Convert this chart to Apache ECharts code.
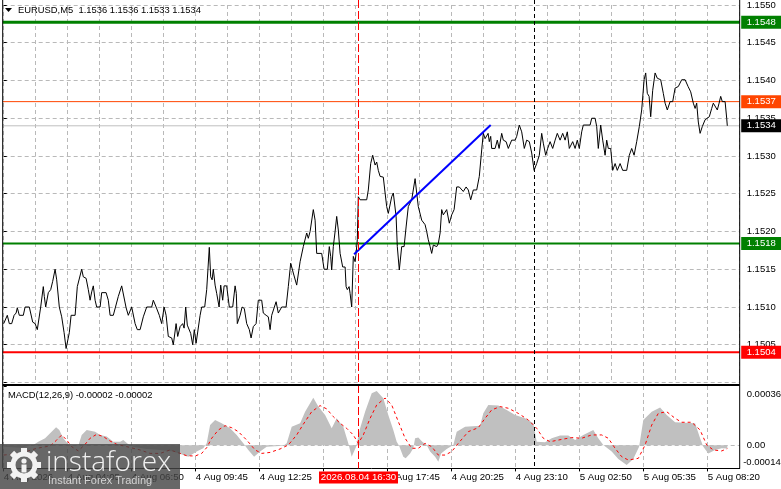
<!DOCTYPE html>
<html><head><meta charset="utf-8">
<script src="https://cdn.jsdelivr.net/npm/echarts@6/dist/echarts.min.js"></script>
<style>html,body{margin:0;padding:0;background:#fff}#c{width:781px;height:489px}</style>
</head><body><div id="c"></div>
<script>
// ---------- DATA ----------
const symbolTitle = 'EURUSD,M5  1.1536 1.1536 1.1533 1.1534';
const macdTitle = 'MACD(12,26,9) -0.00002 -0.00002';
// bar index (M5 bars) , close price
const pricePts = [
[0,1.15078],[1.8,1.15089],[2.8,1.15078],[4,1.15078],[5.2,1.15089],[6.2,1.15092],[6.8,1.15099],[7.8,1.15089],[9.8,1.15089],[10.7,1.151],[12.8,1.151],[14.5,1.1508],[15.7,1.15078],[16.8,1.1507],[17.8,1.1507],[18.5,1.151],[19.8,1.15127],[20.3,1.15114],[21,1.151],[22.3,1.15119],[23.5,1.15123],[24.5,1.15134],[25.7,1.1515],[26.5,1.15136],[27.8,1.151],[29,1.15087],[30.2,1.15066],[31.2,1.15045],[32,1.15043],[32.8,1.15066],[33.7,1.15089],[35.7,1.15089],[36.8,1.15127],[39,1.1515],[39.8,1.1514],[41.2,1.15138],[42.3,1.15123],[43.2,1.15109],[44,1.1512],[44.8,1.15128],[45.7,1.15109],[46.5,1.151],[48.2,1.151],[49,1.15119],[51.2,1.15119],[52.3,1.15109],[53.2,1.15089],[54.8,1.15089],[57.3,1.15114],[59,1.15128],[59.8,1.15128],[61.2,1.15099],[62.3,1.15089],[64,1.151],[65.7,1.15078],[66.8,1.1507],[68.2,1.1507],[69.8,1.15087],[71.5,1.151],[74,1.151],[74.8,1.15109],[76.2,1.151],[77.8,1.15089],[79,1.15078],[80.2,1.151],[81.2,1.15089],[82.3,1.15061],[84,1.15059],[84.8,1.1505],[86.2,1.15078],[87,1.15061],[88.2,1.15074],[89.5,1.15078],[90.2,1.15072],[91,1.151],[91.8,1.15076],[92.7,1.15078],[93.5,1.15065],[94.5,1.1505],[95.3,1.1507],[96.2,1.15052],[97,1.1505],[98.2,1.15089],[99,1.151],[100.5,1.151],[101.5,1.15123],[102.8,1.15179],[103.5,1.1514],[104.2,1.15136],[104.8,1.1515],[105.7,1.15129],[106.5,1.15118],[107.7,1.151],[108.5,1.15129],[109.5,1.15109],[110.2,1.15128],[111.5,1.15128],[112.8,1.151],[114.5,1.151],[115.7,1.15128],[116.3,1.15118],[116.8,1.15078],[118.2,1.15089],[119.2,1.151],[120.3,1.15098],[121.5,1.15078],[122.8,1.1507],[123.7,1.15059],[124.8,1.15074],[126.2,1.15078],[127.3,1.15109],[129,1.15109],[129.8,1.15092],[131.2,1.15089],[132.3,1.15087],[133.2,1.1507],[134,1.15089],[136.2,1.15107],[137.3,1.15092],[139,1.151],[141.2,1.151],[142.3,1.15127],[143.5,1.15158],[144.8,1.15145],[146.5,1.15129],[148.2,1.1516],[149.8,1.1518],[151.5,1.15198],[152.3,1.15191],[153.2,1.152],[154.8,1.15229],[155.7,1.15215],[156.5,1.15171],[159,1.15171],[160.2,1.1515],[161.8,1.1515],[162.8,1.1518],[163.5,1.15167],[164,1.15149],[164.8,1.1518],[165.7,1.152],[166.5,1.1522],[167.3,1.15202],[168.2,1.15171],[169.5,1.15153],[170.7,1.15153],[171.2,1.15127],[171.8,1.15123],[172.7,1.15127],[173.2,1.15118],[174,1.151],[174.8,1.15167],[175.7,1.1516],[176.2,1.15171],[176.8,1.15189],[177.3,1.15246],[178.2,1.15242],[181.5,1.15242],[182.3,1.15255],[183.5,1.1529],[184.5,1.15301],[185.7,1.15288],[186.5,1.15292],[187.3,1.15281],[188.2,1.15273],[189.8,1.15272],[190.7,1.15251],[191.5,1.15233],[192.3,1.15224],[194,1.15246],[194.8,1.15251],[196.2,1.1522],[196.8,1.1518],[197.8,1.15149],[199,1.1518],[200.2,1.1518],[201.2,1.15206],[202.3,1.15233],[204,1.15242],[205.7,1.1527],[206.5,1.15251],[207.3,1.15233],[209,1.15215],[210.7,1.15209],[211.5,1.152],[212.3,1.15189],[213.2,1.1518],[214,1.15171],[214.8,1.15182],[216.5,1.1518],[217.3,1.15184],[218.2,1.15198],[219,1.15229],[219.8,1.15222],[221.5,1.15229],[222.8,1.15211],[224,1.15222],[225.2,1.15229],[226.5,1.15259],[227.8,1.15259],[229.8,1.15253],[231.2,1.15259],[232.3,1.15255],[233.5,1.15242],[234.8,1.15255],[236.5,1.15255],[237.8,1.15273],[239,1.15308],[239.8,1.1533],[240.7,1.15323],[241.5,1.15321],[242.2,1.1533],[242.8,1.15319],[243.5,1.15326],[244,1.1531],[245.7,1.1531],[246.8,1.15321],[247.7,1.1531],[249,1.1533],[249.8,1.15321],[251.2,1.15319],[252.3,1.1531],[254,1.15321],[255.7,1.15321],[256.5,1.15326],[257.8,1.15341],[259,1.15332],[260.3,1.1531],[261.5,1.15321],[262.8,1.15319],[264,1.15304],[265.2,1.15281],[266.5,1.1529],[267.8,1.15301],[269,1.1533],[269.8,1.15317],[271,1.15301],[272,1.1531],[273.2,1.15319],[274.5,1.1531],[275.7,1.15321],[276.8,1.1533],[278.2,1.15321],[279.5,1.1533],[280.7,1.15321],[281.8,1.15332],[282.8,1.1531],[284.5,1.15319],[285.7,1.1531],[286.8,1.15321],[287.8,1.1531],[289,1.15332],[289.8,1.15341],[293.2,1.15341],[294,1.1535],[295.7,1.1535],[296.5,1.15339],[297.3,1.1531],[298.5,1.15341],[299.5,1.15321],[300.7,1.15301],[301.5,1.15321],[302.3,1.1531],[303.5,1.1531],[304.5,1.15281],[305.7,1.1529],[306.8,1.15281],[308.2,1.1529],[309.5,1.15281],[311.5,1.15281],[312.8,1.15301],[314,1.1531],[315.2,1.15301],[316.5,1.15319],[317.8,1.15339],[319,1.15361],[320.2,1.15401],[321,1.1541],[321.8,1.15383],[322.7,1.15379],[323.5,1.15352],[324.5,1.15387],[325.7,1.1541],[326.8,1.15403],[328.5,1.15401],[329.8,1.15383],[330.7,1.1537],[331.8,1.15361],[333.2,1.15372],[334.5,1.15372],[335.7,1.1539],[337.3,1.15392],[339,1.15401],[340.7,1.15401],[342.2,1.15392],[343.5,1.15385],[344.8,1.1537],[345.7,1.15363],[346.5,1.1537],[347.3,1.15345],[348.2,1.1533],[349.3,1.15339],[350.7,1.15348],[352.8,1.15352],[354,1.15363],[354.8,1.1537],[355.7,1.1537],[356.8,1.15361],[357.7,1.1537],[358.5,1.15379],[359.3,1.15372],[360.7,1.15372],[361.5,1.1535],[361.8,1.1534]
];
// MACD histogram (units of 1e-5)
const macdHist = [
[0,-0.8],[8.2,-1.4],[14.8,0.2],[17.3,2.2],[20.7,4.3],[23.2,7.3],[26.2,10.9],[27.8,9.3],[29.8,4.3],[32.3,0.6],[37.3,-0.2],[39,6.3],[41.5,9.3],[45.7,8.3],[48.2,6.3],[51.5,5.3],[54.8,2.2],[58.2,2.2],[59.8,3.2],[62.3,0.6],[64.8,-0.8],[71.5,-2.2],[78.2,-2.8],[84.8,-3.8],[89.8,-5.9],[92.3,-6.9],[96.5,-3.8],[99.8,-1.8],[101.5,1.2],[103.2,12.3],[105.7,15.4],[109,13.4],[113.2,10.3],[116.5,6.3],[119.8,1.2],[122.3,-2.8],[125.2,-6.9],[128.2,-3.8],[131.5,-0.8],[139.8,-0.2],[141.5,1.2],[144,11.3],[148.2,13.4],[150.7,20.4],[154.8,28.9],[157.3,23.5],[160.7,18.4],[164,10.3],[166.5,16.4],[169.8,11.3],[172.3,1.2],[174,-6.9],[176.2,-0.8],[178.2,10.3],[180.7,20.4],[184,31.6],[186.5,33.0],[189.8,28.5],[192.3,18.4],[194.8,9.3],[196.5,2.2],[197.7,-0.2],[199.8,-6.9],[201,-7.9],[203.2,-4.9],[204.8,-1.8],[205.7,4.3],[207.3,4.7],[209.3,2.2],[211.5,0.2],[213.2,-3.8],[215.7,-6.9],[217.3,-9.9],[218.7,-4.9],[221.5,-2.2],[224.8,0.2],[226.5,8.3],[230.7,11.3],[238.2,11.9],[239.8,19.4],[242.3,24.5],[247.3,24.1],[251.5,21.5],[255.7,18.4],[260.7,16.4],[264.8,13.4],[266.5,2.2],[270.7,1.8],[274,4.3],[278.2,5.9],[282.3,5.9],[285.7,3.2],[289.8,6.3],[294.8,9.3],[297.3,4.3],[299.8,0.2],[304,-3.8],[307.3,-8.3],[311.5,-11.9],[314.8,-8.3],[317.7,-0.8],[319.8,15.4],[324,20.4],[328.2,22.9],[331.5,18.4],[335.7,14.0],[345.7,13.4],[348.2,4.3],[349.8,-0.8],[352.3,-4.9],[355.7,-2.8],[359,-1.8],[361.8,-2]
];
// MACD signal (units of 1e-5)
const macdSignal = [
[0,-5.9],[8.2,-4.9],[16.5,-1.8],[23.2,-0.4],[26.5,3.2],[29,6.3],[31.5,3.2],[34,-0.8],[37.3,-3.4],[40.7,0.6],[43.2,4.3],[46.5,6.7],[49.8,5.3],[53.2,2.6],[56.5,0.6],[61.5,-0.8],[68.2,-2.8],[73.2,-4.9],[78.2,-4.9],[83.2,-2.8],[88.2,-4.9],[91.5,-6.3],[95.7,-6.5],[99,-4.9],[101.5,-1.4],[104,4.3],[107.3,9.3],[110.7,11.9],[114,10.7],[117.3,8.3],[121.5,3.2],[125.7,-2.8],[129,-4.9],[133.2,-4.3],[138.2,-2.2],[142.3,0.2],[146.5,6.3],[149.8,12.8],[154,20.4],[158.2,24.1],[161.5,22.1],[164.8,17.4],[168.2,13.4],[171.5,10.3],[174.8,6.3],[177.3,1.2],[179.8,6.3],[183.2,16.4],[186.5,24.5],[190.7,28.7],[194,24.5],[197.3,14.4],[200.7,4.3],[204,-1.8],[207.3,-1.8],[210.7,1.2],[214,-0.8],[217.3,-5.9],[220.7,-5.9],[224,-3.8],[227.3,1.2],[232.3,8.3],[237.3,10.7],[240.7,16.4],[244,21.5],[248.2,23.5],[252.3,22.5],[257.3,19.4],[262.3,15.4],[266.5,10.3],[269.8,4.3],[273.2,2.2],[279,3.6],[284,4.7],[289,4.3],[294,6.3],[299,6.3],[302.3,4.3],[305.7,-1.8],[309,-6.9],[312.3,-8.9],[317.3,-7.9],[320.7,0.2],[324,12.3],[327.3,19.4],[331.5,20.4],[335.7,16.4],[339,14.0],[344,14.0],[348.2,9.3],[351.5,0.2],[354.8,-2.8],[359,-3.4],[361.8,-2]
];
const timeTickIdx = [0,32,64,96,128,160,192,224,256,288,320,352];
const timeTickLabels = ['4 Aug 2026','4 Aug 04:05','4 Aug 06:50','4 Aug 09:45','4 Aug 12:25','4 Aug 15:05','4 Aug 17:45','4 Aug 20:25','4 Aug 23:10','5 Aug 02:50','5 Aug 05:35','5 Aug 08:20'];
const macdAxisValues = [-14, 0, 36];        // 1e-5 units
const macdAxisLabels = ['-0.00014', '0.00', '0.00036'];
const levels = [
  {name:'resistance', value:1.15477, color:'#008000', width:3, tag:'#008000', tagText:'#ffffff'},
  {name:'pivot',      value:1.15184, color:'#008000', width:2, tag:'#008000', tagText:'#ffffff'},
  {name:'support',    value:1.1504,  color:'#ff0000', width:2, tag:'#ff0000', tagText:'#ffffff'},
  {name:'ask',        value:1.15372, color:'#ff4500', width:1, tag:'#ff4500', tagText:'#ffffff'},
  {name:'bid',        value:1.1534,  color:'#c0c0c0', width:1, tag:'#000000', tagText:'#ffffff'}
];
const trendIdx = [175.2, 243.5];
const trendPrice = [1.1517, 1.15341];
const cursorIdx = 177;
const cursorLabel = '2026.08.04 16:30';
const daySepIdx = 265;

// ---------- CHART ----------
const FONT = '"Liberation Sans", Arial, sans-serif';
const gridCol = '#b9b9b9';
const chart = echarts.init(document.getElementById('c'), null, {renderer:'canvas'});
const tickMap = {};
timeTickIdx.forEach((v,k)=>tickMap[v]=timeTickLabels[k]);

const option = {
  animation:false,
  backgroundColor:'#ffffff',
  textStyle:{fontFamily:FONT},
  grid:[
    {left:3.7, right:41.3, top:5, height:377.5},
    {left:3.7, right:41.3, top:386, height:82.4}
  ],
  xAxis:[
    {gridIndex:0, type:'value', min:0, max:368, interval:16,
     axisLine:{show:false}, axisTick:{show:false}, axisLabel:{show:false},
     splitLine:{show:true, lineStyle:{color:gridCol, type:[4,3], width:1}}},
    {gridIndex:1, type:'value', min:0, max:368, interval:16,
     axisLine:{show:true, onZero:false, lineStyle:{color:'#000', width:1}},
     axisTick:{show:true, length:3, lineStyle:{color:'#000'}, customValues: timeTickIdx},
     axisLabel:{show:true, align:'left', margin:4, color:'#000', fontSize:9.7, fontFamily:FONT,
       customValues: timeTickIdx,
       formatter:v=> (tickMap[v]!==undefined? tickMap[v] : '')},
     splitLine:{show:true, lineStyle:{color:gridCol, type:[4,3], width:1}}}
  ],
  yAxis:[
    {gridIndex:0, type:'value', position:'right', min:1.15, max:1.155, interval:0.0005,
     axisLine:{show:false}, axisTick:{show:true, length:3, lineStyle:{color:'#000'}},
     axisLabel:{show:true, margin:7, color:'#000', fontSize:9.5, fontFamily:FONT,
       formatter:v=> v<1.15001 ? '' : v.toFixed(4)},
     splitLine:{show:true, lineStyle:{color:gridCol, type:[4,3], width:1}}},
    {gridIndex:1, type:'value', position:'right', min:-14, max:36,
     axisLine:{show:false}, axisTick:{show:true, length:3, lineStyle:{color:'#000'}, customValues:macdAxisValues},
     axisLabel:{show:false},
     splitLine:{show:false}}
  ],
  series:[
    {type:'line', xAxisIndex:1, yAxisIndex:1, data:macdHist, symbol:'none', silent:true, z:2,
     lineStyle:{width:0}, areaStyle:{color:'#c0c0c0', opacity:1}},
    {type:'line', xAxisIndex:1, yAxisIndex:1, data:macdSignal, symbol:'none', silent:true, z:3,
     lineStyle:{color:'#ff0000', width:1, type:[3,3]}},
    {type:'line', xAxisIndex:0, yAxisIndex:0, data:pricePts, symbol:'none', silent:true, z:3,
     lineStyle:{color:'#000', width:1}},
    {type:'line', xAxisIndex:0, yAxisIndex:0, symbol:'none', silent:true, z:5,
     data: trendIdx.map((v,k)=>[v, trendPrice[k]]),
     lineStyle:{color:'#0000ff', width:2}}
  ]
};
chart.setOption(option);

// ---------- overlays positioned through the axes ----------
const px = v => chart.convertToPixel({xAxisIndex:0}, v);
const py = v => chart.convertToPixel({yAxisIndex:0}, v);
const my = v => chart.convertToPixel({yAxisIndex:1}, v);
const axisX = px(368);
const leftX = px(0) - 1;
const bottomY = my(-14);
const g = [];
// price levels (horizontal lines)
levels.forEach(l=>{
  const y = py(l.value);
  g.push({type:'line', z:2, shape:{x1:leftX, y1:y, x2:axisX, y2:y}, style:{stroke:l.color, lineWidth:l.width}});
});
// MACD zero level
const zy = Math.round(my(0))+0.5;
g.push({type:'line', z:1, shape:{x1:leftX, y1:zy, x2:axisX, y2:zy}, style:{stroke:gridCol, lineWidth:1, lineDash:[4,3]}});
// frame
g.push({type:'line', shape:{x1:axisX, y1:0, x2:axisX, y2:bottomY}, style:{stroke:'#000', lineWidth:1}, z:50});
g.push({type:'line', shape:{x1:leftX, y1:0, x2:leftX, y2:bottomY}, style:{stroke:'#000', lineWidth:1}, z:50});
g.push({type:'line', shape:{x1:leftX, y1:385, x2:axisX, y2:385}, style:{stroke:'#000', lineWidth:2}, z:50});
// day separator & cursor
const dx = Math.round(px(daySepIdx))+0.5;
g.push({type:'line', shape:{x1:dx, y1:0, x2:dx, y2:bottomY}, style:{stroke:'#000', lineWidth:1, lineDash:[4,3]}, z:40});
const cx = Math.round(px(cursorIdx))+0.5;
g.push({type:'line', shape:{x1:cx, y1:0, x2:cx, y2:bottomY}, style:{stroke:'#ff0000', lineWidth:1, lineDash:[8,3]}, z:40});
g.push({type:'rect', shape:{x:cx-39.5, y:471.5, width:79, height:12}, style:{fill:'#ff0000'}, z:60});
g.push({type:'text', x:cx, y:477.5, style:{text:cursorLabel, fill:'#fff', font:'9.7px '+FONT, textAlign:'center', textVerticalAlign:'middle', align:'center', verticalAlign:'middle'}, z:61});
// price tags on axis
levels.forEach(l=>{
  const y = py(l.value);
  g.push({type:'rect', shape:{x:axisX+1.5, y:y-6.5, width:781-axisX, height:13}, style:{fill:l.tag}, z:60});
  g.push({type:'text', x:axisX+7, y:y, style:{text:l.value.toFixed(4), fill:l.tagText, font:'9.5px '+FONT, verticalAlign:'middle', textVerticalAlign:'middle'}, z:61});
});
// MACD axis labels
macdAxisValues.forEach((v,k)=>{
  let y = my(v), va = 'middle';
  if (k === macdAxisValues.length-1) { y = y + 3; va = 'top'; }
  if (k === 0) { y = y - 1; va = 'bottom'; }
  const txt = macdAxisLabels[k];
  g.push({type:'text', x: axisX + (txt.charAt(0)==='-' ? 3.5 : 7), y:y,
    style:{text:txt, fill:'#000', font:'9.5px '+FONT, verticalAlign:va, textVerticalAlign:va}, z:61});
});
// titles
g.push({type:'polygon', shape:{points:[[5,8],[12,8],[8.5,12]]}, style:{fill:'#000'}, z:60});
g.push({type:'text', x:18, y:10, style:{text:symbolTitle, fill:'#000', font:'9.4px '+FONT, verticalAlign:'middle', textVerticalAlign:'middle'}, z:60});
g.push({type:'text', x:8, y:395, style:{text:macdTitle, fill:'#000', font:'9.4px '+FONT, verticalAlign:'middle', textVerticalAlign:'middle'}, z:60});
// watermark logo
g.push({type:'rect', shape:{x:0, y:444, width:180, height:45}, style:{fill:'rgba(70,70,70,0.82)'}, z:80});
const gcx = 24, gcy = 465;
for (let k=0;k<8;k++){
  g.push({type:'rect', x:gcx, y:gcy, rotation:k*Math.PI/4, shape:{x:-3, y:-17, width:6, height:7}, style:{fill:'#f2f2f2'}, z:81});
}
g.push({type:'circle', shape:{cx:gcx, cy:gcy, r:11}, style:{fill:'none', stroke:'#f2f2f2', lineWidth:5}, z:81});
g.push({type:'circle', shape:{cx:gcx, cy:gcy-4, r:2.6}, style:{fill:'#f2f2f2'}, z:81});
g.push({type:'rect', shape:{x:gcx-2.5, y:gcy-0.5, width:5, height:8}, style:{fill:'#f2f2f2'}, z:81});
g.push({type:'text', x:46, y:463, style:{text:'instaforex', fill:'#f0f0f0', font:'300 28px "Open Sans", Roboto, sans-serif', verticalAlign:'middle', textVerticalAlign:'middle'}, z:81});
g.push({type:'text', x:48, y:481, style:{text:'Instant Forex Trading', fill:'#d4d4d4', font:'11px '+FONT, verticalAlign:'middle', textVerticalAlign:'middle'}, z:81});
chart.setOption({graphic:{elements:g}});
</script>
</body></html>
